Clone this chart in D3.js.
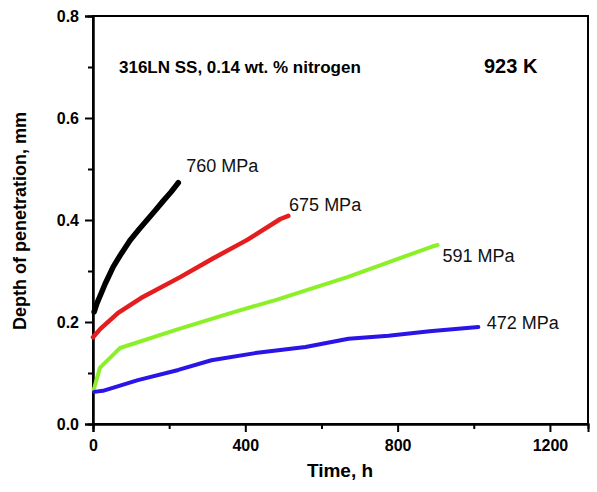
<!DOCTYPE html>
<html>
<head>
<meta charset="utf-8">
<script src="https://cdn.jsdelivr.net/npm/d3@7"></script>
<style>
  body { margin: 0; background: #fff; }
  svg { display: block; font-family: "Liberation Sans", Arial, sans-serif; }
</style>
</head>
<body>
<svg id="chart"></svg>
<script>
const width = 597, height = 492;
const margin = {top: 16, right: 9, bottom: 68, left: 93};

// time (h) vs depth of penetration (mm)
const t760 = [3, 10, 18, 32, 53, 75, 97, 120, 142, 164, 184, 205, 224];
const d760 = [0.220, 0.236, 0.250, 0.275, 0.308, 0.335, 0.360, 0.381, 0.400, 0.419, 0.437, 0.455, 0.473];
const t675 = [0, 20, 66, 126, 229, 316, 405, 492, 513];
const d675 = [0.170, 0.187, 0.218, 0.247, 0.288, 0.325, 0.361, 0.402, 0.408];
const t591 = [2, 18, 71, 224, 363, 479, 668, 887, 905];
const d591 = [0.067, 0.110, 0.149, 0.186, 0.218, 0.243, 0.288, 0.347, 0.351];
const t472 = [3, 26, 118, 224, 311, 426, 558, 671, 776, 884, 1012];
const d472 = [0.063, 0.065, 0.086, 0.106, 0.125, 0.139, 0.151, 0.167, 0.173, 0.182, 0.190];

const seriesNames = ["760 MPa", "675 MPa", "591 MPa", "472 MPa"];
const xTicks = [0, 400, 800, 1200];
const xMinor = [200, 600, 1000];
const yTicks = [0.0, 0.2, 0.4, 0.6, 0.8];
const yMinor = [0.1, 0.3, 0.5, 0.7];

const series = [
  {name: seriesNames[0], t: t760, d: d760, color: "#000000", w: 5.5},
  {name: seriesNames[1], t: t675, d: d675, color: "#e41e1e", w: 4.5},
  {name: seriesNames[2], t: t591, d: d591, color: "#8cf029", w: 4},
  {name: seriesNames[3], t: t472, d: d472, color: "#2a14e6", w: 4}
];
// label anchors in data units
const labelPos = [[245, 0.494], [515, 0.417], [918, 0.317], [1034, 0.186]];

const svg = d3.select("#chart").attr("width", width).attr("height", height);

const x = d3.scaleLinear().domain([0, 1300]).range([margin.left, width - margin.right]);
const y = d3.scaleLinear().domain([0, 0.8]).range([height - margin.bottom, margin.top]);

// frame
svg.append("rect")
    .attr("x", margin.left).attr("y", margin.top)
    .attr("width", width - margin.left - margin.right)
    .attr("height", height - margin.top - margin.bottom)
    .attr("fill", "none").attr("stroke", "#000").attr("stroke-width", 2);

// x axis
const xAxis = svg.append("g").attr("transform", `translate(0,${height - margin.bottom})`);
xAxis.call(d3.axisBottom(x).tickValues(xTicks).tickSize(8).tickPadding(8).tickFormat(d3.format("d")));
xAxis.append("g").call(d3.axisBottom(x).tickValues(xMinor).tickSize(5).tickFormat(""));

// y axis
const yAxis = svg.append("g").attr("transform", `translate(${margin.left},0)`);
yAxis.call(d3.axisLeft(y).tickValues(yTicks).tickSize(8).tickPadding(6).tickFormat(d3.format(".1f")));
yAxis.append("g").call(d3.axisLeft(y).tickValues(yMinor).tickSize(5).tickFormat(""));

svg.selectAll(".domain").attr("stroke", "#000").attr("stroke-width", 2);
svg.selectAll(".tick line").attr("stroke", "#000").attr("stroke-width", 2);
svg.selectAll(".tick text")
    .attr("font-size", "16px").attr("font-weight", "bold")
    .attr("font-family", "Liberation Sans, Arial, sans-serif").attr("fill", "#000");

// curves (dense measured points, drawn as thick polylines)
const line = d3.line().x(p => x(p[0])).y(p => y(p[1]));
series.forEach((s, i) => {
  const pts = s.t.map((v, k) => [v, s.d[k]]);
  svg.append("path")
      .attr("d", line(pts))
      .attr("fill", "none")
      .attr("stroke", s.color)
      .attr("stroke-width", s.w)
      .attr("stroke-linecap", "round")
      .attr("stroke-linejoin", "round");

  svg.append("text")
      .attr("x", x(labelPos[i][0]))
      .attr("y", y(labelPos[i][1]))
      .attr("font-size", "18px")
      .attr("fill", "#111")
      .text(s.name);
});

// annotations
svg.append("text")
    .attr("x", 119).attr("y", 73)
    .attr("font-size", "17px").attr("font-weight", "bold")
    .text("316LN SS, 0.14 wt. % nitrogen");

svg.append("text")
    .attr("x", 484).attr("y", 73)
    .attr("font-size", "20px").attr("font-weight", "bold")
    .text("923 K");

// axis titles
svg.append("text")
    .attr("x", 340).attr("y", 477)
    .attr("text-anchor", "middle")
    .attr("font-size", "19px").attr("font-weight", "bold")
    .text("Time, h");

svg.append("text")
    .attr("transform", "translate(26,221) rotate(-90)")
    .attr("text-anchor", "middle")
    .attr("font-size", "18px").attr("font-weight", "bold")
    .text("Depth of penetration, mm");
</script>
</body>
</html>
